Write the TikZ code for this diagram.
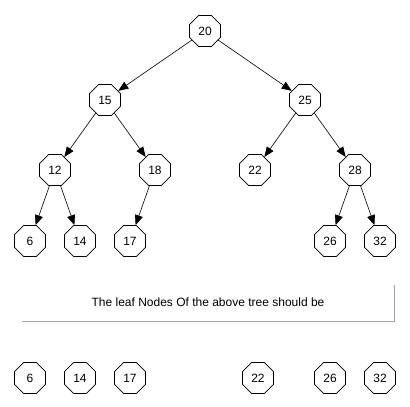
\documentclass[tikz,border=0pt]{standalone}
\usepackage{fontspec}
\setmainfont{Liberation Sans}
\usetikzlibrary{shapes.geometric,arrows.meta}
\begin{document}
\begin{tikzpicture}[x=1pt,y=-1pt,
  oct/.style={draw,thick,regular polygon,regular polygon sides=8,
    minimum size=33.5pt,inner sep=0pt,font=\fontsize{12}{14}\selectfont,fill=white},
  arr/.style={-{Triangle[length=10pt,width=8pt]},semithick},
  box/.style={draw=gray!70,line width=1pt}]
\useasboundingbox (0,0) rectangle (410,407);
\node[oct] (n20) at (205,31) {20};
\node[oct] (n15) at (105,100) {15};
\node[oct] (n25) at (305,100) {25};
\node[oct] (n12) at (55,170) {12};
\node[oct] (n18) at (155,170) {18};
\node[oct] (n22) at (255,170) {22};
\node[oct] (n28) at (355,170) {28};
\node[oct] (n6) at (30,241) {6};
\node[oct] (n14) at (80,241) {14};
\node[oct] (n17) at (130,241) {17};
\node[oct] (n26) at (330,241) {26};
\node[oct] (n32) at (380,241) {32};
\draw[arr] (n20) -- (n15);
\draw[arr] (n20) -- (n25);
\draw[arr] (n15) -- (n12);
\draw[arr] (n15) -- (n18);
\draw[arr] (n25) -- (n22);
\draw[arr] (n25) -- (n28);
\draw[arr] (n12) -- (n6);
\draw[arr] (n12) -- (n14);
\draw[arr] (n18) -- (n17);
\draw[arr] (n28) -- (n26);
\draw[arr] (n28) -- (n32);
\coordinate (bl) at (22,321);
\coordinate (br) at (394,321);
\coordinate (tr) at (394,285);
\draw[box] (bl) -- (br) -- (tr);
\node[font=\fontsize{12}{14}\selectfont] (cap) at (208,302) {The leaf Nodes Of the above tree should be};
\node[oct] (b6) at (30,378) {6};
\node[oct] (b14) at (80,378) {14};
\node[oct] (b17) at (130,378) {17};
\node[oct] (b22) at (258,378) {22};
\node[oct] (b26) at (330,378) {26};
\node[oct] (b32) at (380,378) {32};
\end{tikzpicture}
\end{document}
